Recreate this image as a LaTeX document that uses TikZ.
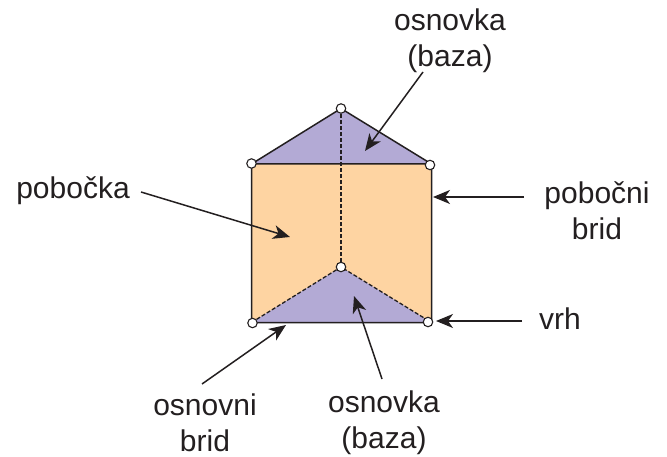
\documentclass[tikz,border=0pt]{standalone}
\usepackage{fontspec}
\setmainfont{Liberation Sans}
\usetikzlibrary{arrows.meta}
\definecolor{purp}{RGB}{179,170,213}
\definecolor{orng}{RGB}{254,212,162}
\definecolor{ink}{RGB}{35,31,32}
\tikzset{
  x=1pt,y=-1pt,
  lab/.style={font=\fontsize{30}{36}\selectfont,text=ink,align=center,inner sep=0pt},
  edge/.style={draw=ink,line width=1.5pt},
  hid/.style={draw=ink,line width=1.3pt,dash pattern=on 4pt off 2pt},
  pt/.style={circle,draw=ink,fill=white,line width=1.1pt,minimum size=9.5pt,inner sep=0pt},
  arr/.style={draw=ink,line width=1.5pt,-{Stealth[length=17pt,width=14pt,inset=5pt]}}
}
\begin{document}
\begin{tikzpicture}
\useasboundingbox (0,0) rectangle (667,457);
\coordinate (TA) at (251.5,164);
\coordinate (TB) at (431.5,164);
\coordinate (TC) at (341,108.5);
\coordinate (BA) at (251.5,322.5);
\coordinate (BB) at (431.5,322.5);
\coordinate (BC) at (341,267);
\fill[orng] (TA) -- (TB) -- (BB) -- (BA) -- cycle;
\fill[purp] (TA) -- (TC) -- (TB) -- cycle;
\fill[purp] (BA) -- (BC) -- (BB) -- cycle;
\draw[edge] (TB) -- (TC) -- (TA) -- (BA) -- (BB) -- (TB) -- (TA);
\draw[hid] (TC) -- (BC);
\draw[hid] (BA) -- (BC) -- (BB);
\node[pt] (ta) at (251.5,163.5) {};
\node[pt] (tb) at (430,165) {};
\node[pt] (tc) at (TC) {};
\node[pt] (ba) at (252.5,323) {};
\node[pt] (bb) at (428,322) {};
\node[pt] (bc) at (BC) {};
\node[lab] (l1) at (450,41) {osnovka\\(baza)};
\node[lab] (l2) at (73,191) {pobočka};
\node[lab] (l3) at (597,211) {pobočni\\brid};
\node[lab] (l4) at (560,319) {vrh};
\node[lab] (l5) at (205,423) {osnovni\\brid};
\node[lab] (l6) at (384,423) {osnovka\\(baza)};
\coordinate (a1s) at (423,72);
\coordinate (a1e) at (365,151);
\coordinate (a2s) at (141,192);
\coordinate (a2e) at (290,237);
\coordinate (a3s) at (524,197);
\coordinate (a3e) at (433,197);
\coordinate (a4s) at (522,321);
\coordinate (a4e) at (436,321);
\coordinate (a5s) at (202,384);
\coordinate (a5e) at (286,325);
\coordinate (a6s) at (382,379);
\coordinate (a6e) at (354,296);
\draw[arr] (a1s) -- (a1e);
\draw[arr] (a2s) -- (a2e);
\draw[arr] (a3s) -- (a3e);
\draw[arr] (a4s) -- (a4e);
\draw[arr] (a5s) -- (a5e);
\draw[arr] (a6s) -- (a6e);
\end{tikzpicture}
\end{document}
